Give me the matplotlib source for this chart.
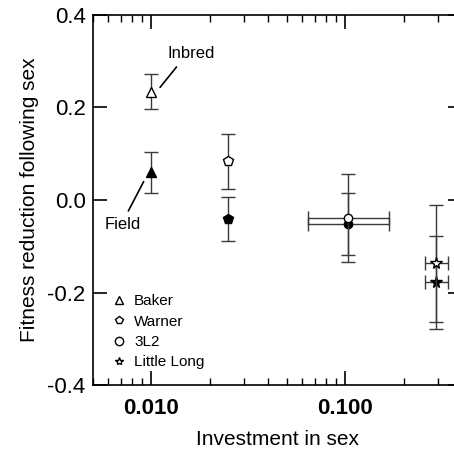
"""Fitness reduction following sex vs investment in sex"""

import matplotlib
matplotlib.use("Agg")
import matplotlib.pyplot as plt
from matplotlib.lines import Line2D
from matplotlib.ticker import LogLocator, NullFormatter, FixedLocator

plt.rcParams['font.family'] = ['Liberation Sans', 'DejaVu Sans']

populations = ["Baker", "Warner", "3L2", "Little Long"]
markers = ["^", "p", "o", "*"]
marker_sizes = [7, 7, 6, 8.5]

# investment in sex (x) with lower / upper x errors
investment = [0.010, 0.025, 0.1033, 0.295]
x_err_low = [0.0, 0.0, 0.039, 0.038]
x_err_high = [0.0, 0.0, 0.064, 0.044]

# fitness reduction, inbred (open symbols) and field (filled symbols)
inbred = [0.234, 0.083, -0.039, -0.137]
inbred_err = [0.037, 0.059, 0.095, 0.126]
field = [0.060, -0.041, -0.052, -0.178]
field_err = [0.044, 0.048, 0.068, 0.101]

fig = plt.figure(figsize=(4.54, 4.58), dpi=100)
ax = fig.add_axes([0.204, 0.159, 0.814, 0.809])

ebar_color = "#3a3a3a"
for i in range(len(populations)):
    xe = [[x_err_low[i]], [x_err_high[i]]]
    has_xerr = x_err_low[i] > 0
    ax.errorbar([investment[i]], [field[i]], yerr=[field_err[i]],
                xerr=xe if has_xerr else None,
                fmt=markers[i], ms=marker_sizes[i], mfc="black", mec="black",
                ecolor=ebar_color, elinewidth=1.0, capsize=5, capthick=1.0,
                zorder=3)
    ax.errorbar([investment[i]], [inbred[i]], yerr=[inbred_err[i]],
                xerr=xe if has_xerr else None,
                fmt=markers[i], ms=marker_sizes[i], mfc="white", mec="black",
                mew=1.0, ecolor=ebar_color, elinewidth=1.0, capsize=5,
                capthick=1.0, zorder=4)

ax.annotate("Inbred", xy=(0.01112, 0.243), xytext=(0.0121, 0.300),
            fontsize=12, ha="left", va="bottom",
            arrowprops=dict(arrowstyle="-", color="black", lw=1.2,
                            relpos=(0.3, 0.0), shrinkA=3, shrinkB=0))
ax.annotate("Field", xy=(0.00916, 0.0395), xytext=(0.00718, -0.054),
            fontsize=12, ha="center", va="center",
            arrowprops=dict(arrowstyle="-", color="black", lw=1.2,
                            relpos=(0.55, 1.0), shrinkA=3, shrinkB=0))

handles = [Line2D([], [], ls="none", marker=m, ms=6, mfc="white",
                  mec="black", mew=1.0) for m in markers]
ax.legend(handles, populations, loc="upper left",
          bbox_to_anchor=(0.034, 0.262), frameon=False, fontsize=11,
          handlelength=1.0, handletextpad=0.5, labelspacing=0.42,
          borderaxespad=0)

ax.set_xscale("log")
ax.set_xlim(0.005, 0.4)
ax.set_ylim(-0.4, 0.4)

ax.xaxis.set_major_locator(FixedLocator([0.01, 0.1]))
ax.set_xticklabels(["0.010", "0.100"], fontweight="bold")
ax.xaxis.set_minor_locator(LogLocator(base=10, subs=range(2, 10)))
ax.xaxis.set_minor_formatter(NullFormatter())
ax.set_yticks([-0.4, -0.2, 0.0, 0.2, 0.4])
ax.set_yticklabels(["-0.4", "-0.2", "0.0", "0.2", "0.4"])

ax.tick_params(which="major", direction="in", length=10, width=1.2,
               labelsize=16, top=True, right=True, pad=5)
ax.tick_params(which="minor", direction="in", length=5, width=1.0,
               top=True, right=True)
ax.tick_params(axis="x", which="major", pad=9)
for s in ax.spines.values():
    s.set_linewidth(1.2)

ax.set_xlabel("Investment in sex", fontsize=15, labelpad=8)
ax.set_ylabel("Fitness reduction following sex", fontsize=15, labelpad=6)

plt.savefig("out.png", dpi=100)
